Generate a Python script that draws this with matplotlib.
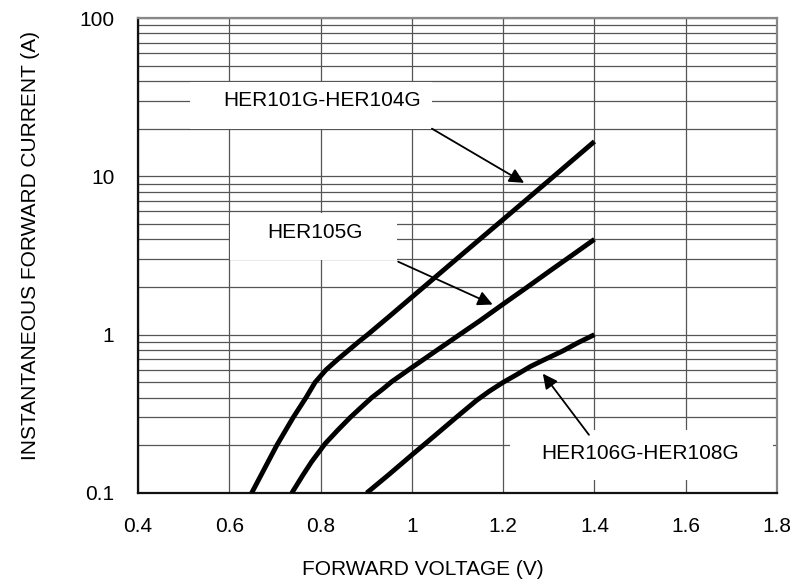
import matplotlib.pyplot as plt
from matplotlib.patches import Rectangle
from matplotlib.ticker import LogLocator, NullFormatter, FixedLocator

plt.rcParams['font.family'] = ['Liberation Sans', 'DejaVu Sans']

# forward voltage (V) vs instantaneous forward current (A)
v_101 = [0.649, 0.704, 0.740, 0.768, 0.788, 0.812, 0.838, 0.862, 0.884, 0.903,
         0.95, 0.992, 1.05, 1.10, 1.15, 1.20, 1.25, 1.30, 1.35, 1.40]
i_101 = [0.10, 0.20, 0.30, 0.40, 0.50, 0.60, 0.70, 0.80, 0.905, 1.00,
         1.30, 1.65, 2.29, 3.04, 4.03, 5.34, 7.08, 9.40, 12.5, 16.6]

v_105 = [0.737, 0.76, 0.78, 0.810, 0.838, 0.865, 0.89, 0.912, 0.935, 0.956, 1.00,
         1.05, 1.10, 1.15, 1.20, 1.25, 1.30, 1.35, 1.40]
i_105 = [0.10, 0.128, 0.157, 0.205, 0.25, 0.30, 0.35, 0.40, 0.45, 0.505, 0.62,
         0.78, 0.98, 1.23, 1.56, 1.97, 2.50, 3.16, 4.00]

v_106 = [0.901, 0.95, 1.00, 1.05, 1.10, 1.142, 1.17, 1.20, 1.23, 1.26, 1.288,
         1.331, 1.364, 1.40]
i_106 = [0.10, 0.131, 0.174, 0.23, 0.305, 0.385, 0.44, 0.50, 0.56, 0.63, 0.69,
         0.79, 0.89, 1.00]

labels = ['HER101G-HER104G', 'HER105G', 'HER106G-HER108G']
x_ticks = [0.4, 0.6, 0.8, 1.0, 1.2, 1.4, 1.6, 1.8]
x_ticklabels = ['0.4', '0.6', '0.8', '1', '1.2', '1.4', '1.6', '1.8']
y_ticks = [0.1, 1, 10, 100]
y_ticklabels = ['0.1', '1', '10', '100']

fig = plt.figure(figsize=(8.04, 5.84), dpi=100)
ax = fig.add_axes([138/804, 91/584, 639/804, 475/584])

ax.set_yscale('log')
ax.set_xlim(0.4, 1.8)
ax.set_ylim(0.1, 100)

ax.xaxis.set_major_locator(FixedLocator(x_ticks))
ax.set_xticklabels(x_ticklabels)
ax.yaxis.set_major_locator(FixedLocator(y_ticks))
ax.set_yticklabels(y_ticklabels)
ax.yaxis.set_minor_locator(LogLocator(base=10, subs=range(2, 10)))
ax.yaxis.set_minor_formatter(NullFormatter())

ax.grid(True, which='both', axis='y', color='#555555', lw=0.9)
ax.grid(True, which='major', axis='x', color='#555555', lw=0.9)
ax.tick_params(which='both', length=0, labelsize=15)
ax.tick_params(axis='x', pad=17)
ax.tick_params(axis='y', pad=17)

for s in ['left', 'bottom']:
    ax.spines[s].set_linewidth(1.6)
    ax.spines[s].set_color('#111111')
for s in ['top', 'right']:
    ax.spines[s].set_linewidth(1.6)
    ax.spines[s].set_color('#888888')

for v, i in [(v_101, i_101), (v_105, i_105), (v_106, i_106)]:
    ax.plot(v, i, color='black', lw=3.5, solid_capstyle='butt',
            solid_joinstyle='round', zorder=4)

# white label boxes (axes fraction)
boxes = [(0.081, 0.766, 0.379, 0.099), (0.144, 0.491, 0.261, 0.098), (0.582, 0.027, 0.412, 0.106)]
for bx, by, bw, bh in boxes:
    ax.add_patch(Rectangle((bx, by), bw, bh, transform=ax.transAxes,
                           facecolor='white', edgecolor='none', zorder=2))

text_pos = [(0.288, 0.827), (0.277, 0.549), (0.786, 0.084)]
arrows = [((1.044, 20.0), (1.246, 9.1)),
          ((0.970, 2.89), (1.177, 1.55)),
          ((1.388, 0.233), (1.287, 0.567))]
for lab, (tx, ty), (tail, head) in zip(labels, text_pos, arrows):
    ax.text(tx, ty, lab, transform=ax.transAxes, ha='center', va='center',
            fontsize=15, zorder=3)
    ax.annotate('', xy=head, xytext=tail,
                arrowprops=dict(arrowstyle='-|>', color='black', lw=1.3,
                                mutation_scale=22, shrinkA=0, shrinkB=0),
                zorder=5)

ax.set_xlabel('FORWARD VOLTAGE (V)', fontsize=15, va='center')
ax.set_ylabel('INSTANTANEOUS FORWARD CURRENT (A)', fontsize=15, va='center')
ax.xaxis.set_label_coords(0.446, -0.162)
ax.yaxis.set_label_coords(-0.168, 0.522)

fig.savefig('out.png', dpi=100)
